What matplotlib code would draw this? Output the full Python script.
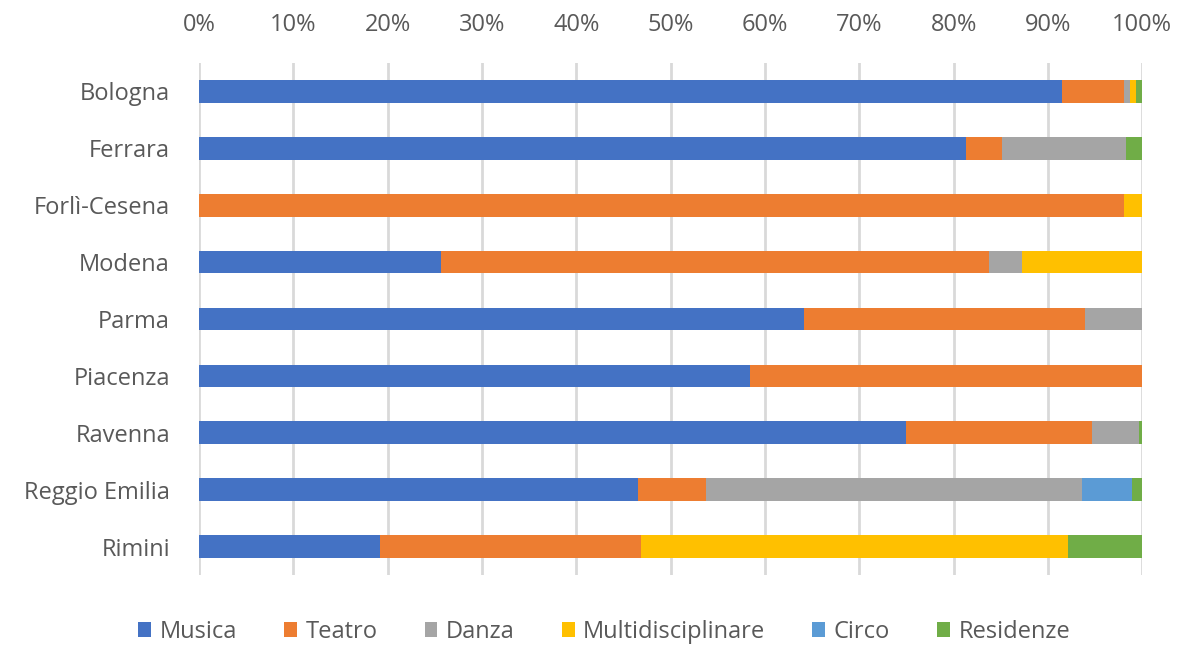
import matplotlib
matplotlib.use("Agg")
import matplotlib.pyplot as plt
from matplotlib.patches import Patch
import numpy as np

plt.rcParams['font.family'] = ['Open Sans', 'DejaVu Sans']

provinces = ["Bologna", "Ferrara", "Forlì-Cesena", "Modena", "Parma",
             "Piacenza", "Ravenna", "Reggio Emilia", "Rimini"]
series_names = ["Musica", "Teatro", "Danza", "Multidisciplinare", "Circo", "Residenze"]
musica            = [91.5, 81.3, 0.0, 25.6, 64.1, 58.4, 74.9, 46.5, 19.2]
teatro            = [6.6, 3.8, 98.1, 58.1, 29.8, 41.6, 19.8, 7.2, 27.7]
danza             = [0.6, 13.2, 0.0, 3.5, 6.1, 0.0, 5.0, 39.9, 0.0]
multidisciplinare = [0.6, 0.0, 1.9, 12.8, 0.0, 0.0, 0.0, 0.0, 45.2]
circo             = [0.0, 0.0, 0.0, 0.0, 0.0, 0.0, 0.0, 5.3, 0.0]
residenze         = [0.7, 1.7, 0.0, 0.0, 0.0, 0.0, 0.3, 1.1, 7.9]
tick_labels = ["0%", "10%", "20%", "30%", "40%", "50%", "60%", "70%", "80%", "90%", "100%"]

colors = ["#4472C4", "#ED7D31", "#A5A5A5", "#FFC000", "#5B9BD5", "#70AD47"]
text_color = "#595959"

data = np.array([musica, teatro, danza, multidisciplinare, circo, residenze])
data = data / data.sum(axis=0) * 100

fig = plt.figure(figsize=(11.87, 6.46), dpi=100)
ax = fig.add_axes([0.1677, 0.1099, 0.7946, 0.7926])

y = np.arange(len(provinces))
left = np.zeros(len(provinces))
for vals, name, c in zip(data, series_names, colors):
    ax.barh(y, vals, left=left, height=0.4, color=c, label=name, zorder=3)
    left += vals

ax.set_xlim(0, 100)
ax.set_ylim(len(provinces) - 0.5, -0.5)
ax.set_yticks(y)
ax.set_yticklabels(provinces, fontsize=17, color=text_color)
ax.set_xticks(np.arange(0, 101, 10))
ax.set_xticklabels(tick_labels, fontsize=17, color=text_color)
ax.xaxis.tick_top()
ax.tick_params(axis='x', length=0, pad=19)
ax.tick_params(axis='y', length=0, pad=21)
ax.grid(axis='x', color="#D9D9D9", linewidth=2, zorder=0)
for s in ax.spines.values():
    s.set_visible(False)

handles = [Patch(facecolor=c, edgecolor='none') for c in colors]
fig.legend(handles, series_names, loc='center', bbox_to_anchor=(0.509, 0.022),
           ncol=6, frameon=False, fontsize=17, labelcolor=text_color,
           handlelength=0.55, handleheight=0.6, handletextpad=0.35,
           columnspacing=2.0)

fig.savefig("out.png", dpi=100)
